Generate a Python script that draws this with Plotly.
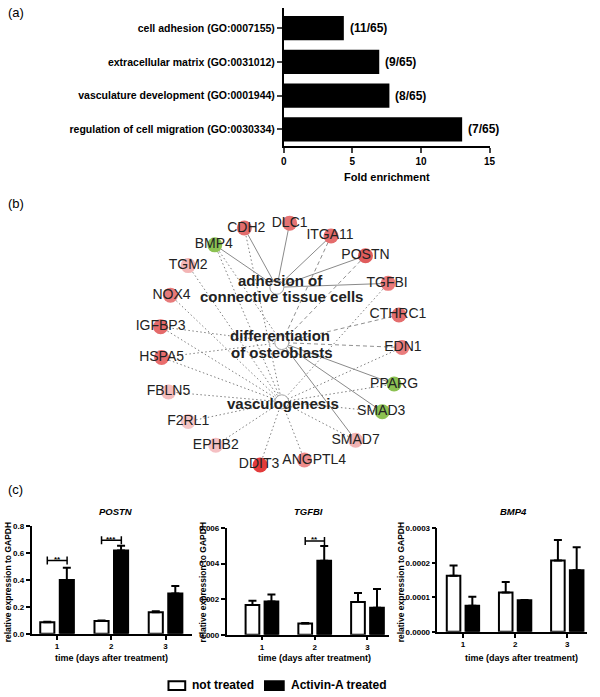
import plotly.graph_objects as go

W, H = 600, 697
FONT = "Liberation Sans, Arial, sans-serif"

# ---------------- Panel (a) data ----------------
go_terms = ["cell adhesion (GO:0007155)", "extracellular matrix (GO:0031012)",
            "vasculature development (GO:0001944)", "regulation of cell migration (GO:0030334)"]
fold_enrichment = [4.38, 6.96, 7.70, 13.0]
gene_ratio = ["(11/65)", "(9/65)", "(8/65)", "(7/65)"]
fold_ticks = [0, 5, 10, 15]

# ---------------- Panel (b) data (network layout) ----------------
net_genes = ["CDH2", "DLC1", "ITGA11", "BMP4", "POSTN", "TGM2", "TGFBI", "NOX4", "CTHRC1", "IGFBP3",
             "EDN1", "HSPA5", "PPARG", "FBLN5", "SMAD3", "F2RL1", "SMAD7", "EPHB2", "ANGPTL4", "DDIT3"]
net_x = [245, 291, 333, 215, 368, 188, 391, 170, 402, 160, 405, 161, 397, 168, 385, 188, 358, 216, 306, 261]
net_y = [227, 222, 235, 244, 255, 265, 283, 295, 315, 327, 348, 358, 385, 393, 413, 423, 442, 447, 462, 467]
label_dx = [2, 0, -1, -1, 0, 0, -1, 1, -1, 0, 1, 0, 0, 0, -1, 0, 0, 0, 10, -1]
net_colors = ["#e36d6d", "#e57373", "#e46c6c", "#8cc152", "#e05c5c", "#f3b5b5", "#e97a7a", "#e77b7b", "#e46e6e", "#e46a6a",
              "#ea7d7d", "#e96d6d", "#8cc152", "#f4bcbc", "#8cc152", "#f6c6c6", "#f1b3b3", "#f5c0c3", "#ee8c8c", "#e33b3b"]
hub_names = ["adhesion", "differentiation", "vasculogenesis"]
hub_x = [278, 283, 283]
hub_y = [287, 343, 403]
hub_lines = [["adhesion of", "connective tissue cells"], ["differentiation", "of osteoblasts"], ["vasculogenesis"]]
hub_line_x = [[282, 283], [281, 283], [284]]
hub_line_y = [[280, 296], [336, 353], [405]]
edges_solid = [("BMP4", "adhesion"), ("CDH2", "adhesion"), ("DLC1", "adhesion"), ("ITGA11", "adhesion"),
               ("POSTN", "adhesion"), ("TGFBI", "adhesion"), ("PPARG", "differentiation"),
               ("SMAD3", "differentiation"), ("SMAD7", "differentiation")]
edges_dashed = [("ITGA11", "differentiation"), ("POSTN", "differentiation"),
                ("CTHRC1", "differentiation"), ("EDN1", "differentiation")]
edges_dotted = [("BMP4", "differentiation"), ("IGFBP3", "differentiation"), ("HSPA5", "differentiation"),
                ("BMP4", "vasculogenesis"), ("CDH2", "vasculogenesis"), ("TGM2", "vasculogenesis"),
                ("NOX4", "vasculogenesis"), ("IGFBP3", "vasculogenesis"), ("HSPA5", "vasculogenesis"),
                ("FBLN5", "vasculogenesis"), ("F2RL1", "vasculogenesis"), ("EPHB2", "vasculogenesis"),
                ("DDIT3", "vasculogenesis"), ("ANGPTL4", "vasculogenesis"), ("SMAD7", "vasculogenesis"),
                ("SMAD3", "vasculogenesis"), ("PPARG", "vasculogenesis"), ("EDN1", "vasculogenesis"),
                ("TGFBI", "vasculogenesis")]

# ---------------- Panel (c) data ----------------
days = [1, 2, 3]
postn_nt = [0.085, 0.095, 0.16]
postn_nt_err = [0.004, 0.004, 0.008]
postn_act = [0.40, 0.62, 0.30]
postn_act_err = [0.09, 0.035, 0.055]
tgfbi_nt = [0.00167, 0.00063, 0.00185]
tgfbi_nt_err = [0.00025, 0.00003, 0.0005]
tgfbi_act = [0.00187, 0.00417, 0.00152]
tgfbi_act_err = [0.0004, 0.00083, 0.00105]
bmp4_nt = [0.000162, 0.000114, 0.000206]
bmp4_nt_err = [0.00003, 0.00003, 0.00006]
bmp4_act = [0.0000755, 0.000091, 0.000178]
bmp4_act_err = [0.000026, 0.000001, 0.000067]
# significance: (gene panel, day, bracket level, label)
signif = [("POSTN", 1, 0.545, "**"), ("POSTN", 2, 0.695, "***"), ("TGFBI", 2, 0.00528, "**")]

fig = go.Figure()
ann = []
shapes = []


def txt(xp, yp, s, size, bold=False, italic=False, xanchor="center", yanchor="middle", angle=0, color="black"):
    ann.append(dict(x=xp / W, y=1 - yp / H, xref="paper", yref="paper", text=s, showarrow=False,
                    xanchor=xanchor, yanchor=yanchor, textangle=angle,
                    font=dict(family=FONT, size=size, color=color,
                              weight="bold" if bold else "normal",
                              style="italic" if italic else "normal")))


# ---------------- Panel (a) ----------------
fig.add_trace(go.Bar(x=fold_enrichment, y=go_terms, orientation="h", width=0.72,
                     marker=dict(color="black", line=dict(width=0)),
                     xaxis="x", yaxis="y", showlegend=False, hoverinfo="skip"))
for term, val, lab in zip(go_terms, fold_enrichment, gene_ratio):
    ann.append(dict(x=val, y=term, xref="x", yref="y", text=lab, showarrow=False, xanchor="left",
                    xshift=4, font=dict(family=FONT, size=12, weight="bold", color="black")))
txt(3, 9, "(a)", 13, xanchor="left")
txt(390, 175, "Fold enrichment", 11, bold=True)

# ---------------- Panel (b) ----------------
gpos = {g: (x, y) for g, x, y in zip(net_genes, net_x, net_y)}
hpos = {h: (x, y) for h, x, y in zip(hub_names, hub_x, hub_y)}


def edge_trace(edges, dash, color):
    xs, ys = [], []
    for g, h in edges:
        xs += [gpos[g][0], hpos[h][0], None]
        ys += [gpos[g][1], hpos[h][1], None]
    return go.Scatter(x=xs, y=ys, mode="lines", line=dict(color=color, width=1, dash=dash),
                      xaxis="x2", yaxis="y2", showlegend=False, hoverinfo="skip")


fig.add_trace(edge_trace(edges_dotted, "1.5px,2.5px", "#808080"))
fig.add_trace(edge_trace(edges_dashed, "4px,3px", "#909090"))
fig.add_trace(edge_trace(edges_solid, "solid", "#8a8a8a"))
fig.add_trace(go.Scatter(x=hub_x, y=hub_y, mode="markers",
                         marker=dict(size=14, color="white", line=dict(color="#a0a0a0", width=1)),
                         xaxis="x2", yaxis="y2", showlegend=False, hoverinfo="skip"))
fig.add_trace(go.Scatter(x=net_x, y=net_y, mode="markers",
                         marker=dict(size=15, color=net_colors, line=dict(width=0)),
                         xaxis="x2", yaxis="y2", showlegend=False, hoverinfo="skip"))
fig.add_trace(go.Scatter(x=[x + d for x, d in zip(net_x, label_dx)], y=net_y, mode="text",
                         text=net_genes, textposition="middle center",
                         textfont=dict(family=FONT, size=14, color="#222222"),
                         xaxis="x2", yaxis="y2", showlegend=False, hoverinfo="skip"))
for lines, lx, ly in zip(hub_lines, hub_line_x, hub_line_y):
    for s, x, y in zip(lines, lx, ly):
        txt(x, y, s, 15, bold=True, color="#222222")
txt(3, 202, "(b)", 13, xanchor="left")

# ---------------- Panel (c) ----------------
panels = [
    ("POSTN", 3, (29, 192), (529, 638), [0.53, 3.49], [0, 0.8], 0.2, ".1f",
     postn_nt, postn_nt_err, postn_act, postn_act_err, 6, 110, 115),
    ("TGFBI", 4, (227, 392), (531, 639), [0.33, 3.41], [0, 0.006], 0.002, ".3f",
     tgfbi_nt, tgfbi_nt_err, tgfbi_act, tgfbi_act_err, 203, 316, 310),
    ("BMP4", 5, (441, 593), (531, 636), [0.51, 3.38], [0, 0.0003], 0.0001, ".4f",
     bmp4_nt, bmp4_nt_err, bmp4_act, bmp4_act_err, 404, 526, 518),
]
axis_common = dict(showline=True, linewidth=1.5, linecolor="black", ticks="outside", ticklen=4,
                   tickwidth=1.5, tickcolor="black", showgrid=False, zeroline=False)
for (name, n, xd, yd, xr, yr, dt, fmt, nt, nte, act, acte, ylab_x, xlab_x, title_x) in panels:
    xa, ya = f"x{n}", f"y{n}"
    fig.add_trace(go.Bar(x=days, y=nt, width=0.26, offset=-0.31,
                         marker=dict(color="white", line=dict(color="black", width=2)),
                         error_y=dict(type="data", symmetric=False, array=nte, arrayminus=[0, 0, 0],
                                      color="black", thickness=2, width=4),
                         xaxis=xa, yaxis=ya, showlegend=False, hoverinfo="skip"))
    fig.add_trace(go.Bar(x=days, y=act, width=0.26, offset=0.05,
                         marker=dict(color="black", line=dict(color="black", width=2)),
                         error_y=dict(type="data", symmetric=False, array=acte, arrayminus=[0, 0, 0],
                                      color="black", thickness=2, width=4),
                         xaxis=xa, yaxis=ya, showlegend=False, hoverinfo="skip"))
    fig.update_layout({
        f"xaxis{n}": dict(domain=[xd[0] / W, xd[1] / W], range=xr, tickvals=days, anchor=ya,
                          tickfont=dict(family=FONT, size=8, weight="bold"), **axis_common),
        f"yaxis{n}": dict(domain=[1 - yd[1] / H, 1 - yd[0] / H], range=yr, dtick=dt, tickformat=fmt,
                          anchor=xa, tickfont=dict(family=FONT, size=8, weight="bold"), **axis_common),
    })
    txt(title_x, 514, name, 9.5, bold=True, italic=True)
    txt(ylab_x, 586, "relative expression to GAPDH", 8.5, bold=True, angle=-90)
    txt(xlab_x, 663, "time (days after treatment)", 9, bold=True)
    for (g, d, lvl, lab) in signif:
        if g != name:
            continue
        x0, x1 = d - 0.18, d + 0.185
        shapes.append(dict(type="line", xref=xa, yref=ya, x0=x0, x1=x1, y0=lvl, y1=lvl,
                           line=dict(color="black", width=1.5)))
        for xe in (x0, x1):
            shapes.append(dict(type="line", xref=xa, yref=ya, x0=xe, x1=xe, ysizemode="pixel",
                               yanchor=lvl, y0=-4, y1=4, line=dict(color="black", width=1.5)))
        ann.append(dict(x=d, y=lvl, xref=xa, yref=ya, text=lab, showarrow=False, yanchor="middle",
                        yshift=1, font=dict(family=FONT, size=8, weight="bold", color="black")))

txt(3, 492, "(c)", 13, xanchor="left")

# legend
shapes.append(dict(type="rect", xref="paper", yref="paper", x0=168 / W, x1=185 / W,
                   y0=1 - 695 / H, y1=1 - 686 / H, fillcolor="white", line=dict(color="black", width=2)))
shapes.append(dict(type="rect", xref="paper", yref="paper", x0=266 / W, x1=285 / W,
                   y0=1 - 695 / H, y1=1 - 686 / H, fillcolor="black", line=dict(color="black", width=2)))
txt(190, 690, "not treated", 12, bold=True, xanchor="left")
txt(290, 690, "Activin-A treated", 12, bold=True, xanchor="left")

fig.update_layout(
    width=W, height=H, margin=dict(l=0, r=0, t=0, b=0),
    paper_bgcolor="white", plot_bgcolor="rgba(0,0,0,0)",
    font=dict(family=FONT, color="black"),
    showlegend=False,
    xaxis=dict(domain=[285 / W, 494 / W], range=[0, 15], tickvals=fold_ticks, anchor="y",
               tickfont=dict(family=FONT, size=10, weight="bold"),
               showline=True, linewidth=1.5, linecolor="black", ticks="outside", ticklen=5, tickwidth=1.5,
               showgrid=False, zeroline=False),
    yaxis=dict(domain=[1 - 144 / H, 1 - 4 / H], type="category", categoryorder="array",
               categoryarray=go_terms, range=[3.5, -0.6], anchor="x",
               tickfont=dict(family=FONT, size=10.5, weight="bold"),
               showline=True, linewidth=1.5, linecolor="black", ticks="outside", ticklen=5, tickwidth=1.5,
               showgrid=False, zeroline=False),
    xaxis2=dict(domain=[0, 1], range=[0, W], visible=False, anchor="y2", fixedrange=True),
    yaxis2=dict(domain=[0, 1], range=[H, 0], visible=False, anchor="x2", fixedrange=True),
    annotations=ann, shapes=shapes,
)

fig.write_html("out.html", config={"displayModeBar": False},
               post_script="document.body.style.margin='0';")
